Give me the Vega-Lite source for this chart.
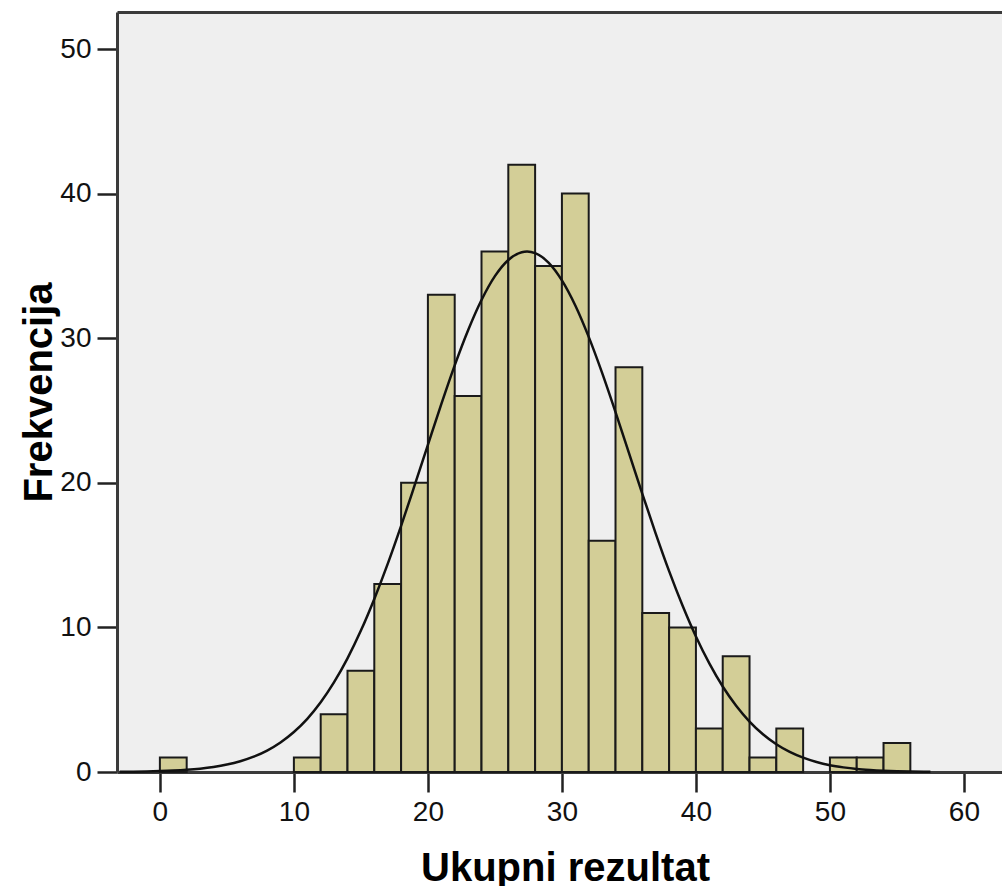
{
  "$schema": "https://vega.github.io/schema/vega-lite/v6.json",
  "width": 885,
  "height": 760,
  "autosize": {"type": "none"},
  "padding": {"left": 117, "top": 12, "right": 0, "bottom": 114},
  "background": "white",
  "config": {
    "view": {"fill": "#efefef", "stroke": null},
    "font": "Liberation Sans",
    "axis": {"grid": false}
  },
  "resolve": {"axis": {"x": "independent"}},
  "layer": [
    {
      "data": {
        "values": [
          {"bin_start": 0, "bin_end": 2, "count": 1},
          {"bin_start": 10, "bin_end": 12, "count": 1},
          {"bin_start": 12, "bin_end": 14, "count": 4},
          {"bin_start": 14, "bin_end": 16, "count": 7},
          {"bin_start": 16, "bin_end": 18, "count": 13},
          {"bin_start": 18, "bin_end": 20, "count": 20},
          {"bin_start": 20, "bin_end": 22, "count": 33},
          {"bin_start": 22, "bin_end": 24, "count": 26},
          {"bin_start": 24, "bin_end": 26, "count": 36},
          {"bin_start": 26, "bin_end": 28, "count": 42},
          {"bin_start": 28, "bin_end": 30, "count": 35},
          {"bin_start": 30, "bin_end": 32, "count": 40},
          {"bin_start": 32, "bin_end": 34, "count": 16},
          {"bin_start": 34, "bin_end": 36, "count": 28},
          {"bin_start": 36, "bin_end": 38, "count": 11},
          {"bin_start": 38, "bin_end": 40, "count": 10},
          {"bin_start": 40, "bin_end": 42, "count": 3},
          {"bin_start": 42, "bin_end": 44, "count": 8},
          {"bin_start": 44, "bin_end": 46, "count": 1},
          {"bin_start": 46, "bin_end": 48, "count": 3},
          {"bin_start": 50, "bin_end": 52, "count": 1},
          {"bin_start": 52, "bin_end": 54, "count": 1},
          {"bin_start": 54, "bin_end": 56, "count": 2}
        ]
      },
      "mark": {"type": "bar", "fill": "#d3ce97", "stroke": "#1a1a1a", "strokeWidth": 2},
      "encoding": {
        "x": {
          "field": "bin_start",
          "type": "quantitative",
          "scale": {"domain": [-3.2, 62.84], "nice": false, "zero": false},
          "axis": {
            "orient": "bottom",
            "values": [0, 10, 20, 30, 40, 50, 60],
            "domainColor": "#3a3a3a",
            "domainWidth": 3,
            "tickColor": "#222222",
            "tickWidth": 2.5,
            "tickSize": 20,
            "labelFontSize": 28,
            "labelColor": "#111111",
            "labelPadding": 6,
            "labelFlush": false,
            "labelOverlap": false,
            "title": "Ukupni rezultat",
            "titleFontSize": 40,
            "titleFontWeight": "bold",
            "titleColor": "#000000",
            "titleAlign": "center",
            "titleBaseline": "alphabetic",
            "titleX": 448,
            "titleY": 108
          }
        },
        "x2": {"field": "bin_end"},
        "y": {
          "field": "count",
          "type": "quantitative",
          "scale": {"domain": [0, 52.56], "nice": false},
          "axis": {
            "values": [0, 10, 20, 30, 40, 50],
            "domainColor": "#3a3a3a",
            "domainWidth": 3,
            "tickColor": "#222222",
            "tickWidth": 2.5,
            "tickSize": 20,
            "labelFontSize": 28,
            "labelColor": "#111111",
            "labelPadding": 6,
            "labelFlush": false,
            "labelOverlap": false,
            "title": "Frekvencija",
            "titleFontSize": 40,
            "titleFontWeight": "bold",
            "titleColor": "#000000",
            "titleAngle": 270,
            "titleAlign": "center",
            "titleBaseline": "alphabetic",
            "titleX": -66,
            "titleY": 380
          }
        },
        "y2": {"datum": 0}
      }
    },
    {
      "data": {
        "values": [
          {"x": -3, "y": 0.014}, {"x": -2, "y": 0.024}, {"x": -1, "y": 0.039},
          {"x": 0, "y": 0.062}, {"x": 1, "y": 0.098}, {"x": 2, "y": 0.152},
          {"x": 3, "y": 0.232}, {"x": 4, "y": 0.348}, {"x": 5, "y": 0.512},
          {"x": 6, "y": 0.743}, {"x": 7, "y": 1.058}, {"x": 8, "y": 1.483},
          {"x": 9, "y": 2.043}, {"x": 10, "y": 2.767}, {"x": 11, "y": 3.68},
          {"x": 12, "y": 4.82}, {"x": 13, "y": 6.21}, {"x": 14, "y": 7.86},
          {"x": 15, "y": 9.78}, {"x": 16, "y": 11.97}, {"x": 17, "y": 14.39},
          {"x": 18, "y": 17.02}, {"x": 19, "y": 19.8}, {"x": 20, "y": 22.63},
          {"x": 21, "y": 25.44}, {"x": 22, "y": 28.12}, {"x": 23, "y": 30.55},
          {"x": 24, "y": 32.64}, {"x": 25, "y": 34.29}, {"x": 26, "y": 35.41},
          {"x": 27, "y": 35.95}, {"x": 27.4, "y": 36.0}, {"x": 28, "y": 35.89},
          {"x": 29, "y": 35.23}, {"x": 30, "y": 34.0}, {"x": 31, "y": 32.26},
          {"x": 32, "y": 30.09}, {"x": 33, "y": 27.6}, {"x": 34, "y": 24.89},
          {"x": 35, "y": 22.07}, {"x": 36, "y": 19.24}, {"x": 37, "y": 16.49},
          {"x": 38, "y": 13.89}, {"x": 39, "y": 11.51}, {"x": 40, "y": 9.37},
          {"x": 41, "y": 7.51}, {"x": 42, "y": 5.91}, {"x": 43, "y": 4.58},
          {"x": 44, "y": 3.49}, {"x": 45, "y": 2.61}, {"x": 46, "y": 1.92},
          {"x": 47, "y": 1.39}, {"x": 48, "y": 0.99}, {"x": 49, "y": 0.69},
          {"x": 50, "y": 0.47}, {"x": 51, "y": 0.32}, {"x": 52, "y": 0.21},
          {"x": 53, "y": 0.14}, {"x": 54, "y": 0.09}, {"x": 55, "y": 0.057},
          {"x": 56, "y": 0.035}, {"x": 57, "y": 0.02}, {"x": 57.5, "y": 0.017}
        ]
      },
      "mark": {"type": "line", "color": "#111111", "strokeWidth": 2.5, "interpolate": "monotone"},
      "encoding": {
        "x": {
          "field": "x",
          "type": "quantitative",
          "axis": {
            "orient": "top",
            "domainColor": "#3a3a3a",
            "domainWidth": 3,
            "ticks": false,
            "labels": false,
            "title": null
          }
        },
        "y": {"field": "y", "type": "quantitative"}
      }
    }
  ]
}
